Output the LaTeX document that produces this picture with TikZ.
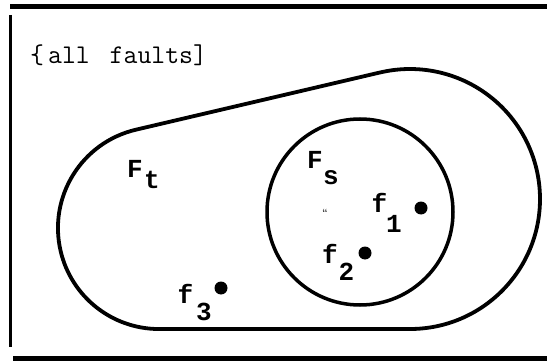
\documentclass[tikz,border=0pt]{standalone}
\usepackage{fontspec}
\newfontfamily\labfont{Liberation Mono}[BoldFont={Liberation Mono Bold}]
\begin{document}
\begin{tikzpicture}[x=1pt,y=-1pt,
  rule/.style={line width=5pt},
  edge/.style={line width=3pt},
  setline/.style={line width=3.8pt, line join=round},
  dot/.style={circle, fill=black, inner sep=0pt, minimum size=13pt},
  lab/.style={font=\labfont\bfseries\fontsize{26}{26}\selectfont, inner sep=0pt, anchor=base},
  title/.style={font=\ttfamily\fontsize{27}{27}\selectfont, inner sep=0pt, anchor=base west}]
\useasboundingbox (0,0) rectangle (547,361);
% frame rules
\coordinate (tl) at (10,6.5);
\coordinate (tr) at (547,6.5);
\coordinate (bl) at (13,358.5);
\coordinate (br) at (547,358.5);
\coordinate (lt) at (10,15);
\coordinate (lb) at (10,347);
\draw[rule] (tl) -- (tr);
\draw[rule] (bl) -- (br);
\draw[edge] (lt) -- (lb);
% title
\node[title] (all) at (30,64) {\{\kern4pt all\kern6pt\ faults]};
% outer set F_t
\draw[setline] (380.3,72.4) -- (135.9,129.7)
  arc[start angle=-103.2, end angle=-270, radius=101]
  -- (410,329)
  arc[start angle=90, end angle=-103.2, radius=130] -- cycle;
% inner set F_s
\draw[line width=3.5pt] (360,212) circle[radius=93];
% labels
\node[lab] (Ft) at (135,178) {F};
\node[lab] (Fts) at (152,188) {t};
\node[lab] (Fs) at (315,168) {F};
\node[lab] (Fss) at (331,185) {s};
\node[lab] (f1) at (379.5,212) {f};
\node[lab] (f1s) at (394,232) {1};
\node[lab] (f2) at (330,263) {f};
\node[lab] (f2s) at (346.5,280) {2};
\node[lab] (f3) at (185.5,303) {f};
\node[lab] (f3s) at (204,320) {3};
\node[font=\bfseries\fontsize{9}{9}\selectfont, inner sep=0pt] (mark) at (325,212) {``};
% elements
\node[dot] (d1) at (421,208) {};
\node[dot] (d2) at (365,253) {};
\node[dot] (d3) at (221,288) {};
\end{tikzpicture}
\end{document}
